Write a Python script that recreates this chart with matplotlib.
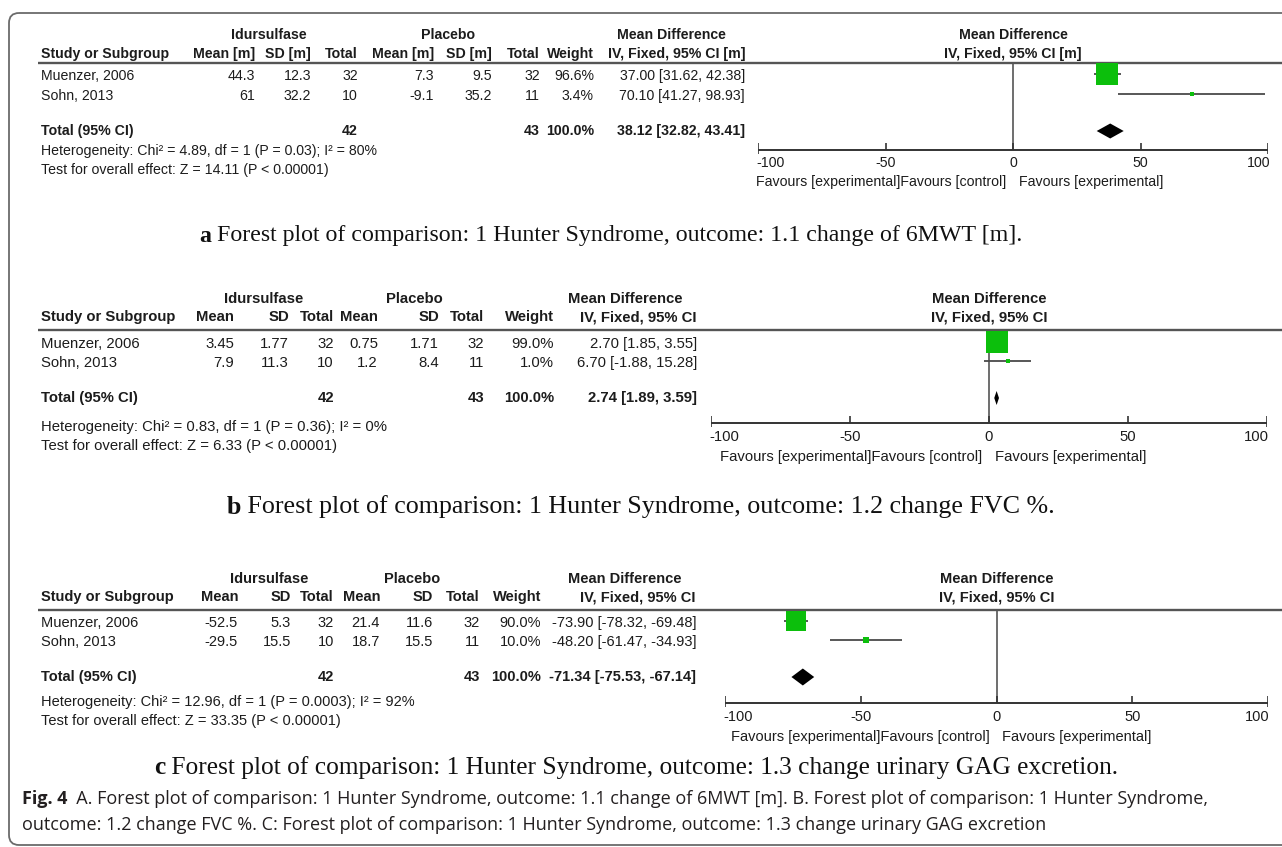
import matplotlib
matplotlib.use("Agg")
import matplotlib.pyplot as plt
from matplotlib import font_manager
from matplotlib.patches import FancyBboxPatch
from matplotlib.transforms import offset_copy

W, H = 1282, 847

# ---------------- data ----------------
studies = ["Muenzer, 2006", "Sohn, 2013"]
ticks = [-100, -50, 0, 50, 100]

# a: change of 6MWT [m]
a_idur_mean = [44.3, 61]
a_idur_sd = [12.3, 32.2]
a_idur_n = [32, 10]
a_plac_mean = [7.3, -9.1]
a_plac_sd = [9.5, 35.2]
a_plac_n = [32, 11]
a_weight = [96.6, 3.4]
a_md = [37.00, 70.10]
a_lo = [31.62, 41.27]
a_hi = [42.38, 98.93]
a_total = [38.12, 32.82, 43.41]
a_het = "Heterogeneity: Chi\u00b2 = 4.89, df = 1 (P = 0.03); I\u00b2 = 80%"
a_test = "Test for overall effect: Z = 14.11 (P < 0.00001)"

# b: change FVC %
b_idur_mean = [3.45, 7.9]
b_idur_sd = [1.77, 11.3]
b_idur_n = [32, 10]
b_plac_mean = [0.75, 1.2]
b_plac_sd = [1.71, 8.4]
b_plac_n = [32, 11]
b_weight = [99.0, 1.0]
b_md = [2.70, 6.70]
b_lo = [1.85, -1.88]
b_hi = [3.55, 15.28]
b_total = [2.74, 1.89, 3.59]
b_het = "Heterogeneity: Chi\u00b2 = 0.83, df = 1 (P = 0.36); I\u00b2 = 0%"
b_test = "Test for overall effect: Z = 6.33 (P < 0.00001)"

# c: change urinary GAG excretion
c_idur_mean = [-52.5, -29.5]
c_idur_sd = [5.3, 15.5]
c_idur_n = [32, 10]
c_plac_mean = [21.4, 18.7]
c_plac_sd = [11.6, 15.5]
c_plac_n = [32, 11]
c_weight = [90.0, 10.0]
c_md = [-73.90, -48.20]
c_lo = [-78.32, -61.47]
c_hi = [-69.48, -34.93]
c_total = [-71.34, -75.53, -67.14]
c_het = "Heterogeneity: Chi\u00b2 = 12.96, df = 1 (P = 0.0003); I\u00b2 = 92%"
c_test = "Test for overall effect: Z = 33.35 (P < 0.00001)"

captions = [
    ("a", " Forest plot of comparison: 1 Hunter Syndrome, outcome: 1.1 change of 6MWT [m]."),
    ("b", " Forest plot of comparison: 1 Hunter Syndrome, outcome: 1.2 change FVC %."),
    ("c", " Forest plot of comparison: 1 Hunter Syndrome, outcome: 1.3 change urinary GAG excretion."),
]
fig_label = "Fig. 4"
fig_lines = [
    "  A. Forest plot of comparison: 1 Hunter Syndrome, outcome: 1.1 change of 6MWT [m]. B. Forest plot of comparison: 1 Hunter Syndrome,",
    "outcome: 1.2 change FVC %. C: Forest plot of comparison: 1 Hunter Syndrome, outcome: 1.3 change urinary GAG excretion",
]

panels = [
    dict(unit=" [m]", im=a_idur_mean, isd=a_idur_sd, inn=a_idur_n, pm=a_plac_mean, psd=a_plac_sd,
         pn=a_plac_n, w=a_weight, md=a_md, lo=a_lo, hi=a_hi, tot=a_total, het=a_het, test=a_test),
    dict(unit="", im=b_idur_mean, isd=b_idur_sd, inn=b_idur_n, pm=b_plac_mean, psd=b_plac_sd,
         pn=b_plac_n, w=b_weight, md=b_md, lo=b_lo, hi=b_hi, tot=b_total, het=b_het, test=b_test),
    dict(unit="", im=c_idur_mean, isd=c_idur_sd, inn=c_idur_n, pm=c_plac_mean, psd=c_plac_sd,
         pn=c_plac_n, w=c_weight, md=c_md, lo=c_lo, hi=c_hi, tot=c_total, het=c_het, test=c_test),
]

# ---------------- layout (pixels) ----------------
layouts = [
    dict(group=35, head=54, rule=63, rows=[76, 96], total=131, het=151, test=170,
         axis=150, ticklab=163, fav=182,
         cols=[255, 311, 358, 434, 492, 540, 594, 745], groups=[269, 448, 671], fx=(758, 1268),
         box=21.5, diamond=15, scale=1.0, cap=(611, 236), capsize=17.2),
    dict(group=299, head=317, rule=330, rows=[344, 363], total=398, het=427, test=446,
         axis=423, ticklab=437, fav=457,
         cols=[234, 289, 334, 378, 439, 484, 554, 697], groups=[264, 414, 625], fx=(711, 1267),
         box=22.5, diamond=14, scale=1.05, cap=(641, 507), capsize=18.7),
    dict(group=579, head=597, rule=610, rows=[623, 642], total=677, het=702, test=721,
         axis=703, ticklab=717, fav=737,
         cols=[238, 291, 334, 380, 433, 480, 541, 696], groups=[269, 412, 625], fx=(725, 1268),
         box=21.0, diamond=17, scale=1.03, cap=(636, 768), capsize=18.3),
]

names = {f.name for f in font_manager.fontManager.ttflist}
if "Liberation Sans Narrow" in names:
    TF, TS0 = ["Liberation Sans Narrow", "DejaVu Sans"], 12.0
else:
    TF, TS0 = ["Liberation Sans", "DejaVu Sans"], 10.2
SERIF = ["Liberation Serif", "DejaVu Serif"]
CAPF = ["Open Sans", "DejaVu Sans"]

TXT = "#1c1c1c"
GREEN = "#0cbf0c"
LINE = "#4a4a4a"

fig = plt.figure(figsize=(W / 100, H / 100), dpi=100)
ax = fig.add_axes([0, 0, 1, 1])
ax.set_xlim(0, W)
ax.set_ylim(H, 0)
ax.axis("off")
renderer = fig.canvas.get_renderer()


def fmt(v):
    return f"{v:g}"


for k, (p, L) in enumerate(zip(panels, layouts)):
    u = p["unit"]
    TS = TS0 * L["scale"]

    def tx(a, x, y, s, ha="left", bold=False, **kw):
        return a.text(x, y, s, ha=ha, va="center", family=TF, size=TS,
                      weight="bold" if bold else "normal", color=TXT, **kw)

    # group headers
    for x, s in zip(L["groups"], ["Idursulfase", "Placebo", "Mean Difference"]):
        tx(ax, x, L["group"], s, ha="center", bold=True)
    tx(ax, 41, L["head"], "Study or Subgroup", bold=True)
    heads = ["Mean" + u, "SD" + u, "Total", "Mean" + u, "SD" + u, "Total", "Weight",
             "IV, Fixed, 95% CI" + u]
    for x, s in zip(L["cols"], heads):
        tx(ax, x, L["head"], s, ha="right", bold=True)
    ax.plot([38, W + 5], [L["rule"], L["rule"]], color="#555555", lw=1.7,
            solid_capstyle="butt")

    # study rows
    for i, name in enumerate(studies):
        y = L["rows"][i]
        tx(ax, 41, y, name)
        vals = [fmt(p["im"][i]), fmt(p["isd"][i]), str(p["inn"][i]),
                fmt(p["pm"][i]), fmt(p["psd"][i]), str(p["pn"][i]),
                f"{p['w'][i]:.1f}%",
                f"{p['md'][i]:.2f} [{p['lo'][i]:.2f}, {p['hi'][i]:.2f}]"]
        for x, s in zip(L["cols"], vals):
            tx(ax, x, y, s, ha="right")

    # total row
    y = L["total"]
    tx(ax, 41, y, "Total (95% CI)", bold=True)
    c = L["cols"]
    tx(ax, c[2], y, str(sum(p["inn"])), ha="right", bold=True)
    tx(ax, c[5], y, str(sum(p["pn"])), ha="right", bold=True)
    tx(ax, c[6], y, f"{sum(p['w']):.1f}%", ha="right", bold=True)
    t = p["tot"]
    tx(ax, c[7], y, f"{t[0]:.2f} [{t[1]:.2f}, {t[2]:.2f}]", ha="right", bold=True)
    tx(ax, 41, L["het"], p["het"])
    tx(ax, 41, L["test"], p["test"])

    # forest plot
    fx0, fx1 = L["fx"]
    fa = fig.add_axes([fx0 / W, 0, (fx1 - fx0) / W, 1])
    fa.set_xlim(ticks[0], ticks[-1])
    fa.set_ylim(H, 0)
    fa.axis("off")
    tx(fa, 0, L["group"], "Mean Difference", ha="center", bold=True)
    tx(fa, 0, L["head"], "IV, Fixed, 95% CI" + u, ha="center", bold=True)
    fa.vlines(0, L["rule"], L["axis"], color="#555555", lw=1.2)
    fa.hlines(L["axis"], ticks[0], ticks[-1], color="#333333", lw=1.4)
    for tk in ticks:
        bottom = L["axis"] + (4 if tk in (ticks[0], ticks[-1]) else 0)
        fa.vlines(tk, L["axis"] - 7, bottom, color="#333333", lw=1.2)
        if tk == ticks[0]:
            tr, ha = offset_copy(fa.transData, fig=fig, x=-2, units="dots"), "left"
        elif tk == ticks[-1]:
            tr, ha = offset_copy(fa.transData, fig=fig, x=2, units="dots"), "right"
        else:
            tr, ha = fa.transData, "center"
        tx(fa, tk, L["ticklab"], fmt(tk), ha=ha, transform=tr)
    tx(fa, 0, L["fav"], "Favours [experimental]Favours [control]", ha="right",
       transform=offset_copy(fa.transData, fig=fig, x=-7, units="dots"))
    tx(fa, 0, L["fav"], "Favours [experimental]", ha="left",
       transform=offset_copy(fa.transData, fig=fig, x=6, units="dots"))

    for i in range(len(studies)):
        y = L["rows"][i] - 2
        fa.hlines(y, p["lo"][i], p["hi"][i], color=LINE, lw=1.3)
        side = max(3.5, L["box"] * (p["w"][i] / 100) ** 0.5)
        fa.plot(p["md"][i], y, "s", ms=side * 0.72, color=GREEN, mec=GREEN, mew=0)
    yd, hd = L["total"], L["diamond"] / 2
    fa.fill([t[1], t[0], t[2], t[0]], [yd, yd - hd, yd, yd + hd], color="black", lw=0)

    # panel caption
    letter, rest = captions[k]
    t1 = ax.text(0, 0, letter, family=SERIF, size=L["capsize"], weight="bold",
                 color="#111111", va="center")
    t2 = ax.text(0, 0, rest, family=SERIF, size=L["capsize"], color="#111111", va="center")
    w1 = t1.get_window_extent(renderer).width
    w2 = t2.get_window_extent(renderer).width
    cx, cy = L["cap"]
    x0 = cx - (w1 + w2) / 2
    t1.set_position((x0, cy))
    t2.set_position((x0 + w1, cy))

# figure caption
FS = 13.0
f1 = ax.text(22, 799, fig_label, family=CAPF, size=FS, weight="bold", color="#231f20",
             va="center")
wl = f1.get_window_extent(renderer).width
ax.text(22 + wl, 799, fig_lines[0], family=CAPF, size=FS, color="#231f20", va="center")
ax.text(22, 825, fig_lines[1], family=CAPF, size=FS, color="#231f20", va="center")

# rounded frame around the figure
ax.add_patch(FancyBboxPatch((9, 13), 1320, 832, boxstyle="round,pad=0,rounding_size=10",
                            fill=False, ec="#6b6b6b", lw=1.3))

fig.savefig("out.png", dpi=100)
